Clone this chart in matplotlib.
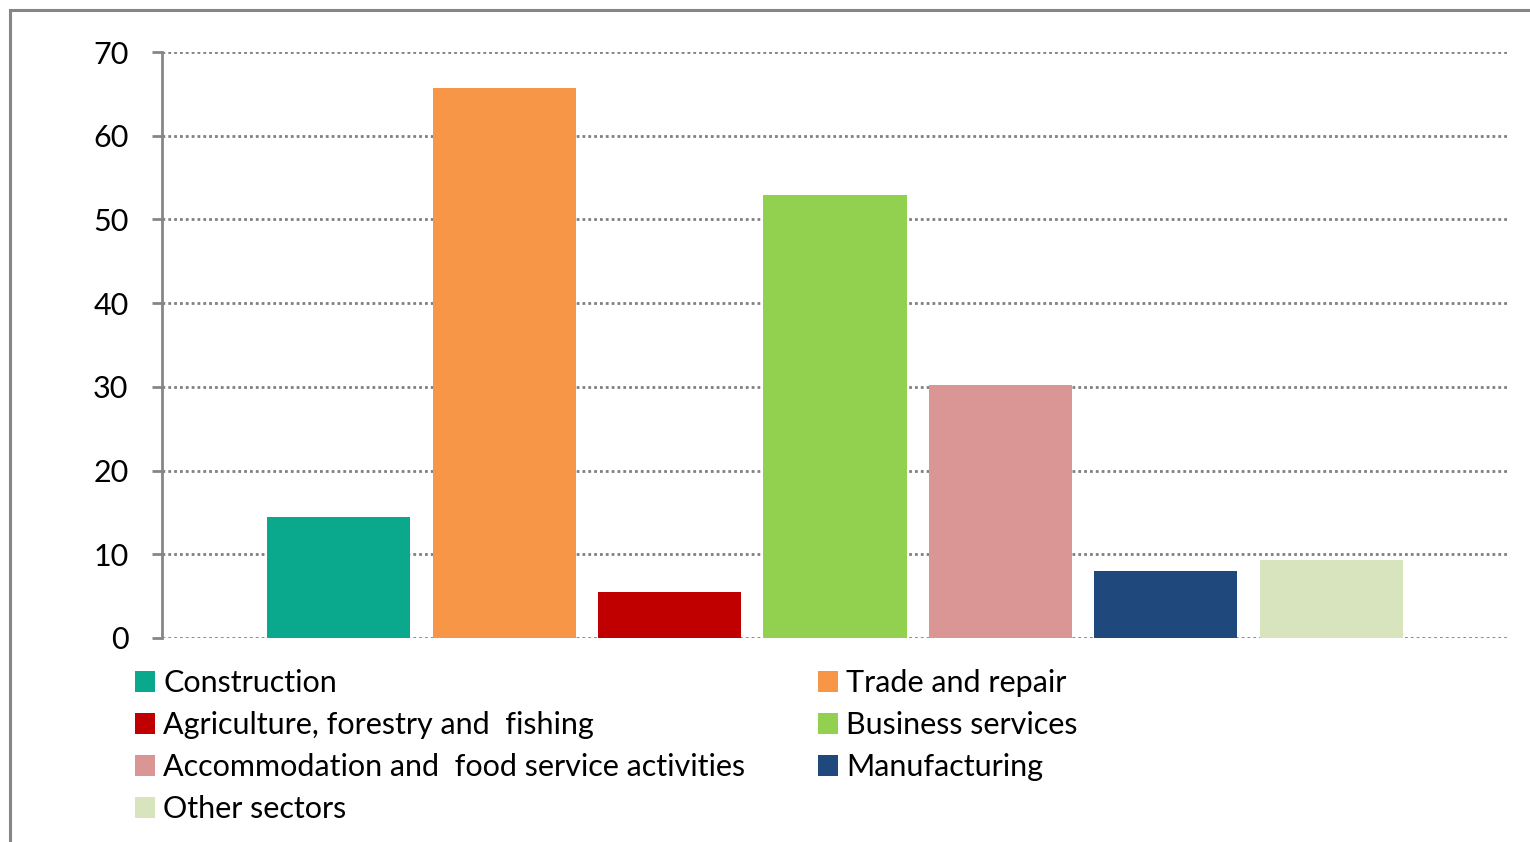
import matplotlib
matplotlib.use("Agg")
import matplotlib.pyplot as plt
from matplotlib.patches import Rectangle, Patch

# Sector shares
sectors = [
    "Construction",
    "Trade and repair",
    "Agriculture, forestry and  fishing",
    "Business services",
    "Accommodation and  food service activities",
    "Manufacturing",
    "Other sectors",
]
values = [14.5, 65.7, 5.5, 52.9, 30.2, 8.0, 9.3]
colors = ["#0AA98E", "#F79646", "#C00000", "#92D050", "#D99694", "#1F497D", "#D7E4BD"]
yticks = [0, 10, 20, 30, 40, 50, 60, 70]

plt.rcParams["font.family"] = ["Lato", "DejaVu Sans"]

fig = plt.figure(figsize=(15.3, 8.42), dpi=100)
ax = fig.add_axes([0.1059, 0.2423, 0.9869 - 0.1059, 0.9382 - 0.2423])

# outer chart border (only top/left visible in the crop)
fig.patches.append(Rectangle((10 / 1530, -0.1), 1.2, 1 - 10 / 842 + 0.1,
                             transform=fig.transFigure, fill=False,
                             edgecolor="#868686", linewidth=2.2))

x = list(range(len(values)))
bars = ax.bar(x, values, width=0.865, color=colors, zorder=3)

ax.set_xlim(-1.068, 7.08)
ax.set_ylim(0, 70)
ax.set_yticks(yticks)
ax.set_xticks([])

ax.yaxis.grid(True, color="#808080", linestyle=(0, (1, 1.1)), linewidth=2, zorder=0)
ax.set_axisbelow(True)

for s in ["top", "right", "bottom"]:
    ax.spines[s].set_visible(False)
ax.spines["left"].set_color("#868686")
ax.spines["left"].set_linewidth(2)
ax.tick_params(axis="y", direction="out", length=7.2, width=2, color="#868686",
               pad=17, labelsize=22, labelcolor="black")

# legend: two columns, filled row-wise like the original
order = [0, 2, 4, 6, 1, 3, 5]
handles = [Patch(facecolor=colors[i], edgecolor="none") for i in order]
labels = [sectors[i] for i in order]
fig.legend(handles, labels, loc="upper left", bbox_to_anchor=(123 / 1530, 1 - 657 / 842),
           ncol=2, frameon=False, fontsize=22, handlelength=0.65, handleheight=0.65,
           handletextpad=0.26, columnspacing=2.4, labelspacing=0.46, borderaxespad=0)

plt.savefig("out.png", dpi=100)
